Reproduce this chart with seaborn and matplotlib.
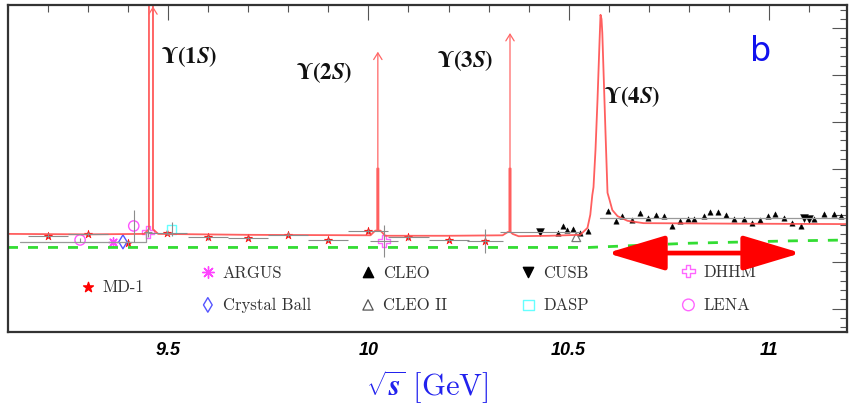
import matplotlib
matplotlib.use("Agg")
import matplotlib.pyplot as plt
import seaborn as sns
from matplotlib.ticker import FixedLocator, MultipleLocator
import numpy as np

# ---- data (x in GeV, y in arbitrary plot units) ----
md1_x = [9.20, 9.30, 9.40, 9.497, 9.60, 9.70, 9.80, 9.90, 10.00, 10.10, 10.20, 10.29]
md1_y = [2.06, 2.10, 1.90, 2.12, 2.03, 2.01, 2.08, 1.97, 2.16, 2.03, 1.97, 1.95]
md1_xerr = [0.05, 0.05, 0.0, 0.05, 0.05, 0.05, 0.05, 0.05, 0.05, 0.05, 0.05, 0.045]
md1_yerr = [0.05, 0.05, 0.05, 0.05, 0.05, 0.05, 0.05, 0.05, 0.05, 0.05, 0.05, 0.26]

argus_x = [9.362]
argus_y = [1.93]
cball_x = [9.387]
cball_y = [1.93]
lena_x = [9.28, 9.414]
lena_y = [1.97, 2.27]
lena_yerr = [0.05, 0.35]
dhhm_x = [9.449, 10.039]
dhhm_y = [2.14, 1.95]
dhhm_xerr = [0.01, 0.035]
dhhm_yerr = [0.1, 0.34]
dasp_x = [9.509]
dasp_y = [2.20]
dasp_yerr = [0.15]

cusb_x = [10.429, 11.087, 11.099]
cusb_y = [2.14, 2.44, 2.42]
cusb_xerr = [0.1, 0.0, 0.0]
cleo2_x = [10.519]
cleo2_y = [2.03]

cleo_x = [10.474, 10.487, 10.497, 10.512, 10.529, 10.549, 10.597, 10.617, 10.634,
          10.659, 10.677, 10.699, 10.717, 10.739, 10.759, 10.777, 10.797, 10.814,
          10.837, 10.852, 10.872, 10.894, 10.912, 10.937, 10.957, 10.979, 10.997,
          11.014, 11.037, 11.057, 11.079, 11.112, 11.137, 11.162, 11.179]
cleo_y = [2.12, 2.27, 2.18, 2.21, 2.12, 2.16, 2.59, 2.38, 2.48,
          2.40, 2.55, 2.44, 2.51, 2.48, 2.27, 2.38, 2.42, 2.42,
          2.48, 2.57, 2.57, 2.51, 2.42, 2.42, 2.33, 2.40, 2.48,
          2.53, 2.44, 2.33, 2.27, 2.42, 2.53, 2.53, 2.48]

# red fit curve
fit_x = [9.10, 9.30, 9.44, 9.452, 9.452, 9.462, 9.462, 9.475, 9.70, 10.005,
         10.017, 10.022, 10.022, 10.025, 10.025, 10.030, 10.042, 10.20, 10.335,
         10.348, 10.352, 10.352, 10.355, 10.355, 10.36, 10.375, 10.45, 10.529,
         10.547, 10.554, 10.559, 10.562, 10.567, 10.572, 10.577, 10.5795, 10.582,
         10.584, 10.592, 10.597, 10.602, 10.609, 10.622, 10.647, 10.687, 10.90, 11.20]
fit_y = [2.10, 2.09, 2.10, 2.20, 7.50, 7.50, 2.20, 2.10, 2.08, 2.07,
         2.17, 2.17, 3.50, 3.50, 2.17, 2.17, 2.06, 2.06, 2.07,
         2.14, 2.14, 3.50, 3.50, 2.14, 2.10, 2.05, 2.06, 2.08,
         2.23, 2.51, 2.93, 3.10, 3.90, 4.97, 6.20, 6.79, 6.70,
         6.40, 4.26, 2.98, 2.83, 2.61, 2.48, 2.38, 2.33, 2.32, 2.31]

# grey reference lines
grey_left_x = [9.13, 9.445, 9.445]
grey_left_y = [1.93, 1.93, 2.12]
grey_right_x = [10.578, 11.19]
grey_right_y = [2.44, 2.44]

# green dashed level
green_x = [9.10, 10.55, 10.80, 11.05, 11.20]
green_y = [1.81, 1.81, 1.90, 1.95, 1.97]

# resonance labels and arrows
res_names = ["1", "2", "3", "4"]
res_label_x = [9.483, 9.818, 10.172, 10.589]
res_label_y = [5.89, 5.55, 5.82, 5.03]
arrow_x = [9.462, 10.0235, 10.3535]
arrow_y0 = [2.2, 3.5, 3.5]
arrow_y1 = [6.97, 6.0, 6.4]

sns.set_theme(style="white")
plt.rcParams["mathtext.fontset"] = "cm"

fig = plt.figure(figsize=(8.49, 4.08), dpi=100)
ax = fig.add_axes([8 / 849, 76 / 408, 839 / 849, 327 / 408])


def safe_math(artist, text, fallback):
    # bold-italic math needs \mathbfit; fall back if this matplotlib lacks it
    artist.set_text(text)
    try:
        fig.canvas.draw()
    except Exception:
        artist.set_text(fallback)


# fit curve and reference lines
sns.lineplot(x=fit_x, y=fit_y, sort=False, estimator=None, color="#ff4d4d",
             lw=1.3, alpha=0.9, ax=ax)
ax.plot(grey_left_x, grey_left_y, color="#999999", lw=0.9)
ax.plot(grey_right_x, grey_right_y, color="#999999", lw=0.9)
sns.lineplot(x=green_x, y=green_y, sort=False, estimator=None, color="#33dd33",
             lw=2, ax=ax).lines[-1].set_dashes([3.6, 3.6])

for xa, y0, y1 in zip(arrow_x, arrow_y0, arrow_y1):
    ax.annotate("", xy=(xa, y1), xytext=(xa, y0),
                arrowprops=dict(arrowstyle="->,head_length=0.4,head_width=0.25",
                                color="#ff6666", lw=0.9, shrinkA=0, shrinkB=0))

# error bars
ecol = "#8c8c8c"
ax.errorbar(md1_x, md1_y, xerr=md1_xerr, yerr=md1_yerr, fmt="none", ecolor=ecol, elinewidth=0.8)
ax.errorbar(lena_x, lena_y, yerr=lena_yerr, fmt="none", ecolor=ecol, elinewidth=0.8)
ax.errorbar(dhhm_x, dhhm_y, xerr=dhhm_xerr, yerr=dhhm_yerr, fmt="none", ecolor=ecol, elinewidth=0.8)
ax.errorbar(dasp_x, dasp_y, yerr=dasp_yerr, fmt="none", ecolor=ecol, elinewidth=0.8)
ax.errorbar(cusb_x, cusb_y, xerr=cusb_xerr, fmt="none", ecolor=ecol, elinewidth=0.8)

# data points
sns.scatterplot(x=md1_x, y=md1_y, marker="*", s=40, color="red", edgecolor="red", linewidth=0.3, ax=ax)
sns.scatterplot(x=argus_x, y=argus_y, marker=(8, 2, 0), s=45, color="#ff44ff", linewidth=1, ax=ax)
sns.scatterplot(x=cball_x, y=cball_y, marker="d", s=50, facecolor="none", edgecolor="#5555ff", linewidth=1, ax=ax)
sns.scatterplot(x=lena_x, y=lena_y, marker="o", s=55, facecolor="none", edgecolor="#ff55ff", linewidth=1, ax=ax)
sns.scatterplot(x=dhhm_x, y=dhhm_y, marker="P", s=70, facecolor="none", edgecolor="#ff66ff", linewidth=1, ax=ax)
sns.scatterplot(x=dasp_x, y=dasp_y, marker="s", s=45, facecolor="none", edgecolor="#66ffff", linewidth=1, ax=ax)
sns.scatterplot(x=cleo_x, y=cleo_y, marker="^", s=15, color="black", edgecolor="black", linewidth=0.3, ax=ax)
sns.scatterplot(x=cusb_x, y=cusb_y, marker="v", s=32, color="black", edgecolor="black", linewidth=0.3, ax=ax)
sns.scatterplot(x=cleo2_x, y=cleo2_y, marker="^", s=40, facecolor="none", edgecolor="#777777", linewidth=0.9, ax=ax)

# hand-made legend
lab_font = dict(fontfamily="cmr10", fontsize=12, color="#333333", va="center")
leg = [
    ("MD-1", 9.30, 0.97, dict(marker="*", s=55, color="red", edgecolor="red")),
    ("ARGUS", 9.599, 1.28, dict(marker=(8, 2, 0), s=70, color="#ff44ff", linewidth=1)),
    ("Crystal Ball", 9.599, 0.58, dict(marker="d", s=55, facecolor="none", edgecolor="#5555ff", linewidth=1)),
    ("CLEO", 9.999, 1.28, dict(marker="^", s=55, color="black", edgecolor="black")),
    ("CLEO II", 9.999, 0.58, dict(marker="^", s=55, facecolor="none", edgecolor="#555555", linewidth=0.9)),
    ("CUSB", 10.399, 1.28, dict(marker="v", s=55, color="black", edgecolor="black")),
    ("DASP", 10.399, 0.58, dict(marker="s", s=60, facecolor="none", edgecolor="#66ffff", linewidth=1)),
    ("DHHM", 10.799, 1.30, dict(marker="P", s=80, facecolor="none", edgecolor="#ff66ff", linewidth=1)),
    ("LENA", 10.799, 0.58, dict(marker="o", s=70, facecolor="none", edgecolor="#ff66ff", linewidth=1)),
]
for name, mx, my, kw in leg:
    ax.scatter([mx], [my], **kw)
    ax.text(mx + 0.037, my - 0.02, name, **lab_font)

# double arrow
ax.annotate("", xy=(10.596, 1.69), xytext=(11.08, 1.69),
            arrowprops=dict(arrowstyle="<|-|>,head_length=3.0,head_width=0.9",
                            color="red", lw=3.4, shrinkA=0, shrinkB=0))

# resonance labels and panel tag
for n, tx, ty in zip(res_names, res_label_x, res_label_y):
    t = ax.text(tx, ty, "", fontsize=16.5, color="#111111", va="center", ha="left",
                math_fontfamily="stix")
    safe_math(t, r"$\mathbf{\Upsilon(%s}\mathbfit{S}\mathbf{)}$" % n,
              r"$\mathbf{\Upsilon(%s}S\mathbf{)}$" % n)
ax.text(10.954, 6.0, "b", fontsize=24, color="#1111ee", va="center", ha="left",
        fontfamily="DejaVu Sans")

# axes styling (ROOT-like inward ticks on all sides)
ax.set_xlim(9.1, 11.195)
ax.set_ylim(0, 7)
ax.xaxis.set_major_locator(FixedLocator([9.5, 10.0, 10.5, 11.0]))
ax.xaxis.set_minor_locator(MultipleLocator(0.1))
ax.yaxis.set_major_locator(FixedLocator(np.arange(0.5, 7, 1.0)))
ax.yaxis.set_minor_locator(FixedLocator(np.arange(0.1, 7, 0.2)))
ax.set_xticklabels(["9.5", "10", "10.5", "11"])
ax.tick_params(which="both", direction="in", top=True, right=True, colors="#555555",
               width=0.8, labelleft=False, labelright=False)
ax.tick_params(which="major", length=11)
ax.tick_params(which="minor", length=5)
ax.tick_params(axis="x", labelcolor="black", pad=7)
for lbl in ax.get_xticklabels():
    lbl.set_fontfamily("Liberation Sans")
    lbl.set_fontweight("bold")
    lbl.set_fontstyle("italic")
    lbl.set_fontsize(13)
for sp in ax.spines.values():
    sp.set_color("#333333")
    sp.set_linewidth(1.6)

xl = ax.set_xlabel("", fontsize=22, color="#2222ee", labelpad=7)
safe_math(xl, r"$\sqrt{\mathbfit{s}}\ \mathrm{[GeV]}$", r"$\sqrt{s}\ \mathrm{[GeV]}$")
ax.set_ylabel("")

fig.savefig("out.png", dpi=100)
plt.close(fig)
